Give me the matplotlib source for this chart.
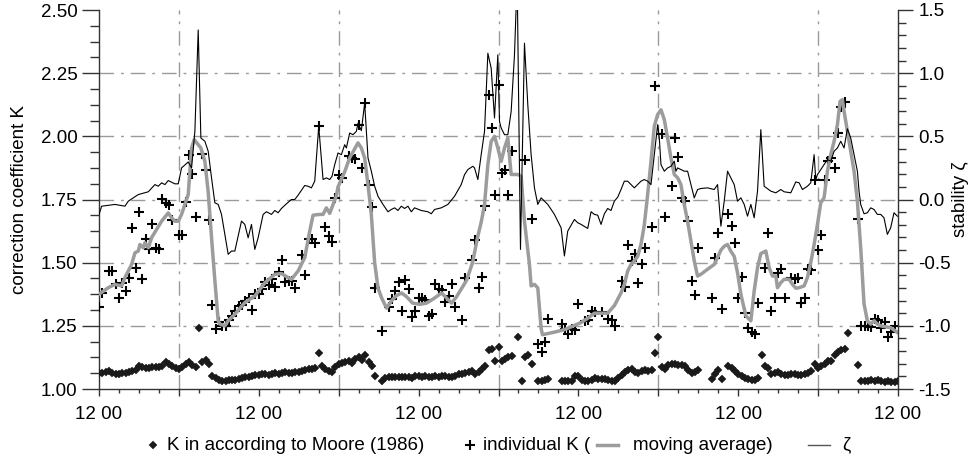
import numpy as np
import matplotlib.pyplot as plt
from matplotlib.lines import Line2D
from matplotlib.ticker import MultipleLocator, FormatStrFormatter

plt.rcParams["font.family"] = ["Liberation Sans", "DejaVu Sans"]
plt.rcParams["axes.unicode_minus"] = False

FS = 13.5
nan = np.nan

# time axis: hours since the first 12:00, five days
X_MAX = 120
DAY_TICKS = [0, 24, 48, 72, 96, 120]
MIDNIGHTS = [12, 36, 60, 84, 108]
K_GRID = [1.25, 1.50, 1.75, 2.00, 2.25]

# K after Moore (1986), half-hourly values
MOORE_DAY1 = [1.062, 1.064, 1.068, 1.072, 1.063, 1.060, 1.059, 1.064, 1.062, 1.066, 1.070, 1.076,
              1.092, 1.088, 1.083, 1.085, 1.086, 1.086, 1.087, 1.090, 1.105, 1.099, 1.092, 1.085,
              1.079, 1.086, 1.100, 1.105, 1.095, 1.088, 1.241, 1.108, 1.114, 1.100, 1.050, 1.043,
              1.035, 1.033, 1.033, 1.034, 1.036, 1.037, 1.039, 1.042, 1.046, 1.048, 1.050, 1.054]
MOORE_DAY2 = [1.056, 1.058, 1.060, 1.057, 1.060, 1.062, 1.061, 1.064, 1.066, 1.065, 1.063, 1.066,
              1.068, 1.072, 1.074, 1.078, 1.080, 1.085, 1.141, 1.090, 1.080, 1.072, 1.068, 1.088,
              1.098, 1.102, 1.108, 1.112, 1.104, 1.118, 1.128, 1.115, 1.135, 1.108, 1.092, 1.050,
              nan, 1.030, 1.045, 1.048, 1.046, 1.049, 1.047, 1.048, 1.046, 1.049, 1.045, 1.052]
MOORE_DAY3 = [1.050, 1.048, 1.050, 1.047, 1.049, 1.051, 1.048, 1.050, 1.052, 1.049, 1.047, 1.050,
              1.058, 1.061, 1.064, 1.068, 1.072, 1.060, 1.066, 1.078, 1.090, 1.155, 1.160, 1.112,
              1.165, 1.112, 1.118, 1.125, 1.132, nan, 1.207, 1.030, 1.127, 1.135, 1.100, nan,
              1.030, 1.030, 1.034, 1.038, nan, nan, nan, 1.032, 1.030, 1.031, 1.033, 1.050]
MOORE_DAY4 = [1.050, 1.035, 1.033, 1.033, 1.037, 1.042, 1.040, 1.038, 1.039, 1.034, 1.032, 1.030,
              1.045, 1.057, 1.066, 1.075, 1.079, 1.066, 1.062, 1.072, 1.075, 1.070, 1.074, 1.141,
              1.204, 1.086, 1.080, 1.095, 1.098, 1.097, 1.095, 1.094, 1.092, 1.075, 1.062, 1.068,
              1.075, nan, nan, nan, 1.040, 1.059, 1.075, 1.040, nan, 1.092, 1.082, 1.070]
MOORE_DAY5 = [1.058, 1.050, 1.045, 1.040, 1.036, 1.036, 1.045, 1.135, 1.090, 1.085, 1.058, 1.062,
              1.066, 1.060, 1.057, 1.056, 1.060, 1.058, 1.055, 1.057, 1.060, 1.064, 1.070, 1.100,
              1.082, 1.090, 1.100, 1.112, 1.110, 1.135, 1.148, 1.155, 1.160, 1.220, nan, nan,
              1.095, 1.033, 1.031, 1.032, 1.034, 1.033, 1.034, 1.031, 1.029, 1.030, 1.027, 1.029,
              1.030]

# individual K
IND_HOURS = [0.0, 0.5, 1.5, 2.0, 2.5, 3.0, 3.5, 4.0, 4.5, 5.0, 5.5, 6.0, 6.5, 7.0, 7.5, 8.0, 8.5,
             9.0, 9.5, 10.0, 10.5, 11.0, 12.0, 12.5, 13.0, 13.5, 14.0, 14.5, 15.5, 16.0, 16.5, 17.0,
             17.5, 18.0, 18.5, 19.0, 19.5, 20.0, 20.5, 21.0, 21.5, 22.0, 22.5, 23.0, 23.5,
             24.0, 24.5, 25.0, 25.5, 26.0, 26.5, 27.0, 27.5, 28.0, 28.5, 29.0, 29.5, 30.5, 31.0,
             31.5, 32.0, 32.5, 33.0, 34.0, 34.5, 35.0, 35.5, 36.0, 36.5, 37.5, 38.0, 38.5, 39.0,
             39.5, 40.0, 40.5, 41.0, 41.5, 42.5, 43.5, 44.0, 44.5, 45.0, 45.5, 46.0, 46.5, 47.0, 47.5,
             48.0, 48.5, 49.0, 49.5, 50.0, 50.5, 51.0, 51.5, 52.0, 52.5, 53.0, 53.5, 54.5, 55.0,
             56.0, 56.5, 57.0, 57.5, 58.0, 58.5, 59.0, 59.5, 60.0, 60.5, 61.0, 61.5, 62.0, 64.0,
             65.0, 66.0, 66.5, 67.0, 67.5, 69.5, 70.0, 70.5, 71.0, 71.5,
             72.0, 73.0, 73.5, 74.0, 74.5, 75.5, 76.5, 77.0, 77.5, 78.5, 79.0, 79.5, 80.0, 80.5,
             81.0, 81.5, 82.0, 83.0, 83.5, 84.5, 85.0, 86.0, 86.5, 87.0, 87.5, 88.0, 88.5, 89.0,
             89.5, 90.0, 92.0, 92.5, 93.0, 93.5, 94.5, 95.0, 95.5,
             96.0, 96.5, 97.0, 97.5, 98.0, 98.5, 99.0, 100.0, 100.5, 101.0, 101.5, 102.0, 102.5,
             103.0, 104.0, 104.5, 105.0, 105.5, 106.0, 106.5, 107.0, 107.5, 108.0, 108.5, 109.0,
             109.5, 110.0, 110.5, 111.0, 111.5, 112.0, 114.0, 114.5, 115.0, 115.5, 116.0, 116.5,
             117.0, 117.5, 118.0, 118.5, 119.0, 119.5]
IND_K = [1.325, 1.378, 1.467, 1.467, 1.414, 1.359, 1.421, 1.388, 1.438, 1.638, 1.478, 1.701, 1.434,
         1.592, 1.553, 1.654, 1.557, 1.553, 1.753, 1.737, 1.728, 1.667, 1.608, 1.608, 1.741, 1.925,
         1.851, 1.680, 1.932, 1.866, 1.667, 1.332, 1.237, 1.267, 1.250, 1.250, 1.272, 1.289, 1.309,
         1.329, 1.332, 1.349, 1.362, 1.312, 1.375,
         1.375, 1.395, 1.425, 1.412, 1.434, 1.404, 1.464, 1.512, 1.424, 1.428, 1.428, 1.400, 1.530,
         1.451, 1.592, 1.592, 1.578, 2.039, 1.641, 1.604, 1.580, 1.754, 1.845, 1.836, 1.924, 1.914,
         1.912, 2.046, 1.875, 2.130, 1.809, 1.722, 1.401, 1.230, 1.326, 1.355, 1.388, 1.422, 1.309,
         1.432, 1.395, 1.283, 1.309,
         1.362, 1.362, 1.351, 1.289, 1.296, 1.417, 1.395, 1.391, 1.346, 1.368, 1.417, 1.325, 1.272,
         1.438, 1.509, 1.589, 1.401, 1.443, 1.724, 2.164, 2.033, 1.767, 2.204, 1.855, 1.866, 1.767,
         1.941, 1.905, 1.671, 1.180, 1.147, 1.187, 1.276, 1.257, 1.237, 1.217, 1.237, 1.233,
         1.336, 1.270, 1.272, 1.309, 1.303, 1.303, 1.276, 1.272, 1.250, 1.428, 1.404, 1.570, 1.507,
         1.536, 1.421, 1.496, 1.557, 1.642, 2.201, 2.009, 1.680, 1.803, 1.993, 1.918, 1.754, 1.743,
         1.664, 1.428, 1.372, 1.557, 1.359, 1.520, 1.618, 1.316, 1.693, 1.647, 1.579,
         1.359, 1.443, 1.299, 1.243, 1.224, 1.217, 1.339, 1.480, 1.618, 1.307, 1.362, 1.461, 1.474,
         1.359, 1.438, 1.434, 1.438, 1.339, 1.359, 1.474, 1.470, 1.826, 1.550, 1.608, 1.826, 1.901,
         1.914, 1.875, 2.013, 2.118, 2.135, 1.671, 1.250, 1.250, 1.249, 1.246, 1.276, 1.272, 1.241,
         1.267, 1.207, 1.224, 1.250]

# moving average of individual K
AVG_HOURS = [0.0, 1.4, 2.4, 3.4, 3.9, 4.9, 5.4, 5.9, 6.15, 6.65, 6.9, 7.4, 7.9, 9.4, 10.4, 10.9,
             11.4, 11.9, 12.4, 12.9, 13.4, 13.65, 13.9, 14.3, 14.9, 15.3, 15.9, 16.4, 16.9, 17.4,
             17.9, 18.15, 18.9, 19.4, 20.4, 21.9, 23.4,
             24.9, 26.4, 27.4, 28.4, 28.9, 29.9, 30.9, 31.65, 32.15, 33.15, 33.65, 34.15, 34.65,
             35.15, 35.65, 35.9, 36.4, 36.9, 37.65, 38.4, 38.9, 39.4, 39.9, 40.4, 40.9, 41.4, 41.9,
             42.45, 43.2, 43.95, 44.7, 45.45, 46.2, 47.1,
             48.15, 49.2, 50.4, 51.45, 52.2, 52.95, 53.7, 55.2, 56.1, 56.85, 57.4, 57.9, 58.4, 58.9,
             59.4, 59.9, 60.4, 60.9, 61.4, 61.9, 62.4, 62.9, 63.4, 63.9, 64.65, 64.9, 65.4, 65.9,
             66.4, 66.6, 68.4, 69.9, 71.4,
             72.4, 73.4, 74.4, 75.4, 76.4, 77.4, 78.4, 78.9, 79.4, 79.9, 80.4, 80.9, 81.4, 81.9,
             82.4, 82.9, 83.4, 83.9, 84.4, 84.9, 85.4, 85.9, 86.4, 86.9, 87.4, 87.9, 88.4, 88.9,
             89.4, 89.9, 90.4, 91.4, 92.4, 92.9, 93.4, 93.9, 94.4, 94.9, 95.4, 95.9,
             96.4, 97.15, 97.9, 98.4, 98.9, 99.4, 100.15, 100.65, 101.15, 101.65, 101.9, 102.4,
             102.9, 103.65, 104.15, 104.65, 105.15, 105.9, 106.4, 106.9, 107.4, 107.9, 108.4, 108.9,
             109.4, 109.9, 110.4, 110.9, 111.3, 111.65, 111.9, 112.4, 112.9, 113.4, 113.9, 114.4,
             114.9, 115.4, 115.9, 116.4, 116.9, 117.4, 118.15, 118.9, 119.9]
AVG_K = [1.375, 1.401, 1.414, 1.408, 1.441, 1.493, 1.539, 1.546, 1.572, 1.559, 1.579, 1.559, 1.599,
         1.664, 1.697, 1.678, 1.664, 1.664, 1.691, 1.730, 1.770, 1.862, 1.954, 1.987, 1.967, 1.954,
         1.901, 1.780, 1.600, 1.430, 1.270, 1.257, 1.250, 1.270, 1.296, 1.342, 1.368,
         1.420, 1.454, 1.457, 1.441, 1.434, 1.467, 1.520, 1.625, 1.688, 1.691, 1.691, 1.717, 1.695,
         1.730, 1.765, 1.800, 1.830, 1.860, 1.915, 1.950, 1.974, 1.954, 1.914, 1.809, 1.691, 1.500,
         1.400, 1.360, 1.320, 1.350, 1.370, 1.380, 1.365, 1.340,
         1.335, 1.340, 1.360, 1.380, 1.360, 1.340, 1.365, 1.430, 1.500, 1.600, 1.660, 1.730, 1.888,
         1.980, 2.000, 1.954, 1.901, 1.954, 1.993, 1.849, 1.849, 1.849, 1.842, 1.664, 1.493, 1.408,
         1.414, 1.400, 1.240, 1.215, 1.225, 1.235, 1.252,
         1.263, 1.280, 1.300, 1.300, 1.300, 1.330, 1.380, 1.414, 1.467, 1.493, 1.507, 1.525, 1.572,
         1.650, 1.770, 1.900, 2.040, 2.086, 2.105, 2.066, 1.993, 1.914, 1.849, 1.836, 1.809, 1.730,
         1.664, 1.586, 1.507, 1.447, 1.454, 1.474, 1.493, 1.520, 1.550, 1.565, 1.572, 1.545, 1.525,
         1.460,
         1.375, 1.289, 1.270, 1.388, 1.480, 1.536, 1.546, 1.480, 1.447, 1.447, 1.401, 1.421, 1.434,
         1.434, 1.414, 1.399, 1.401, 1.408, 1.441, 1.500, 1.572, 1.651, 1.737, 1.757, 1.862, 1.928,
         1.980, 2.046, 2.138, 2.145, 2.099, 2.020, 1.941, 1.862, 1.743, 1.559, 1.336, 1.270, 1.257,
         1.270, 1.257, 1.250, 1.246, 1.243, 1.224]

# stability zeta
ZETA_HOURS = [0.0, 0.4, 2.4, 3.9, 4.4, 5.9, 7.4, 8.4, 8.9, 9.4, 9.9, 10.4, 11.4, 11.9, 12.4, 13.4,
              13.9, 14.4, 14.9, 15.3, 15.9, 16.4, 16.9, 17.4, 17.9, 18.4, 19.4, 19.9, 20.4, 21.4,
              21.9, 22.4, 22.9, 23.4, 23.9,
              24.65, 25.15, 25.9, 26.4, 26.9, 27.4, 28.15, 28.9, 29.4, 29.9, 30.9, 31.4, 31.9, 32.4,
              33.0, 33.65, 34.15, 34.65, 35.0, 35.4, 35.9, 36.4, 36.9, 37.15, 37.65, 38.15, 38.65,
              38.9, 39.4, 39.9, 40.4, 40.9, 41.4, 41.9, 42.65, 43.4, 43.9, 44.4, 44.9, 45.4, 45.9,
              46.4, 46.9, 47.4,
              48.4, 49.4, 49.9, 50.4, 51.4, 52.4, 53.4, 54.4, 54.9, 55.4, 56.15, 56.4, 56.9, 57.4,
              57.9, 58.4, 58.9, 59.4, 59.9, 60.15, 60.4, 60.9, 61.4, 61.9, 62.4, 62.8, 63.3, 63.9,
              64.4, 64.9, 65.4, 65.9, 66.4, 67.4, 68.4, 69.4, 69.9, 70.4, 71.4,
              71.9, 72.4, 73.4, 73.9, 74.4, 74.9, 75.4, 75.9, 76.4, 76.9, 77.4, 77.9, 78.4, 78.9,
              79.4, 79.9, 80.4, 80.9, 81.4, 81.9, 82.4, 82.9, 83.4, 83.9, 84.15, 84.4, 84.9, 85.4,
              85.9, 86.4, 86.65, 86.9, 87.4, 87.9, 88.4, 88.9, 89.4, 89.9, 90.4, 91.4, 92.4, 92.9,
              93.4, 93.9, 94.4, 94.9, 95.4, 95.9,
              96.4, 96.9, 97.4, 97.9, 98.4, 98.9, 99.4, 99.9, 100.9, 101.65, 102.4, 102.9, 103.9,
              104.65, 105.15, 105.65, 106.4, 106.9, 107.4, 107.65, 107.9, 108.4, 108.9, 109.4,
              109.9, 110.4, 110.9, 111.4, 111.9, 112.4, 112.9, 113.4, 113.9, 114.15, 114.4, 114.9,
              115.4, 115.9, 116.4, 116.9, 117.4, 117.9, 118.4, 118.9, 119.4, 119.9]
ZETA = [-0.118, -0.053, -0.039, -0.053, -0.013, 0.039, 0.061, 0.118, 0.105, 0.132, 0.118, 0.150,
        0.124, 0.124, 0.250, 0.297, 0.250, 0.539, 1.342, 0.487, 0.461, 0.382, 0.171, -0.026,
        -0.039, -0.118, -0.434, -0.408, -0.408, -0.171, -0.197, -0.303, -0.197, -0.395, -0.303,
        -0.118, -0.097, -0.118, -0.087, -0.105, -0.071, -0.034, 0.000, 0.000, 0.034, 0.111, 0.105,
        0.092, 0.145, 0.579, 0.158, 0.171, 0.158, 0.184, 0.276, 0.368, 0.355, 0.434, 0.408, 0.526,
        0.513, 0.539, 0.605, 0.545, 0.763, 0.329, 0.224, 0.105, 0.026, -0.039, -0.097, -0.079,
        -0.066, -0.087, -0.053, -0.071, -0.053, -0.097, -0.066,
        -0.087, -0.097, -0.113, -0.079, -0.066, -0.039, 0.026, 0.118, 0.197, 0.237, 0.263, 0.250,
        0.158, 0.355, 0.539, 1.158, 1.039, 0.645, 1.145, 0.618, 0.566, 0.513, 0.513, 0.697, 1.145,
        1.750, -0.395, 1.237, 0.750, 0.355, 0.092, -0.039, 0.013, -0.039, -0.118, -0.224, -0.447,
        -0.250, -0.158,
        -0.184, -0.197, -0.229, -0.097, -0.118, -0.124, -0.197, -0.113, -0.071, -0.087, -0.013,
        0.018, 0.079, 0.145, 0.145, 0.118, 0.092, 0.118, 0.145, 0.158, 0.145, 0.118, 0.355, 0.592,
        0.487, 0.276, 0.224, 0.250, 0.263, 0.303, 0.224, 0.250, 0.237, 0.224, 0.224, 0.118, 0.013,
        0.079, 0.087, 0.092, 0.079, 0.118, -0.211, -0.013, 0.224, 0.171, 0.118, -0.013,
        0.013, -0.039, -0.132, -0.039, -0.145, 0.066, 0.553, 0.105, 0.066, 0.053, 0.079, 0.061,
        0.053, 0.139, 0.132, 0.079, 0.105, 0.132, 0.355, 0.158, 0.197, 0.237, 0.276, 0.316, 0.303,
        0.382, 0.408, 0.461, 0.408, 0.560, 0.487, 0.355, 0.224, 0.066, -0.039, -0.113, -0.105,
        -0.066, -0.079, -0.118, -0.118, -0.145, -0.276, -0.224, -0.105, -0.132]

DIAMOND = dict(ls="none", marker="D", ms=4.4, color="#1a1a1a", mew=0.3)
CROSS = dict(ls="none", marker="+", ms=7, mew=1.5, color="black")
AVG_STYLE = dict(color="#9c9c9c", lw=2.5)


def main():
    moore_k = MOORE_DAY1 + MOORE_DAY2 + MOORE_DAY3 + MOORE_DAY4 + MOORE_DAY5
    moore_hours = np.arange(len(moore_k)) * 0.5

    fig = plt.figure(figsize=(9.74, 4.59), dpi=100)
    ax = fig.add_axes([99 / 974, 70 / 459, 799 / 974, 379 / 459])
    ax2 = ax.twinx()

    grid_kw = dict(color="#9a9a9a", lw=1.0, dashes=(10.5, 5, 2, 5), zorder=0)
    for k in K_GRID:
        ax.axhline(k, **grid_kw)
    for h in MIDNIGHTS:
        ax.axvline(h, **grid_kw)

    ax.plot(moore_hours, moore_k, zorder=3, **DIAMOND)
    ax.plot(IND_HOURS, IND_K, zorder=4, **CROSS)
    ax.plot(AVG_HOURS, AVG_K, zorder=5, solid_joinstyle="round", **AVG_STYLE)
    ax2.plot(ZETA_HOURS, ZETA, color="black", lw=0.8)

    ax.set_xlim(0, X_MAX)
    ax.set_ylim(1.0, 2.5)
    ax2.set_ylim(-1.5, 1.5)

    ax.set_xticks(np.arange(0, X_MAX + 1, 12))
    ax.set_xticklabels(["12 00" if h in DAY_TICKS else "" for h in range(0, X_MAX + 1, 12)])
    ax.xaxis.set_minor_locator(MultipleLocator(3))
    ax.set_yticks(np.arange(1.0, 2.51, 0.25))
    ax.yaxis.set_major_formatter(FormatStrFormatter("%.2f"))
    ax.yaxis.set_minor_locator(MultipleLocator(0.0625))
    ax2.set_yticks(np.arange(-1.5, 1.51, 0.5))
    ax2.yaxis.set_major_formatter(FormatStrFormatter("%.1f"))
    ax2.yaxis.set_minor_locator(MultipleLocator(0.1))

    tick_col = "#333333"
    ax.tick_params(axis="y", which="major", length=12, width=1, pad=3.5, labelsize=FS, color=tick_col)
    ax.tick_params(axis="y", which="minor", length=6.5, width=1, color=tick_col)
    ax.tick_params(axis="x", which="major", length=5, width=1, pad=7, labelsize=FS, color=tick_col)
    ax.tick_params(axis="x", which="minor", length=3, width=1, color=tick_col)
    ax2.tick_params(axis="y", which="major", length=11, width=1, pad=3.5, labelsize=FS, color=tick_col)
    ax2.tick_params(axis="y", which="minor", length=6, width=1, color=tick_col)

    ax.spines["top"].set_visible(False)
    ax.spines["right"].set_visible(False)
    for side in ("top", "left", "bottom"):
        ax2.spines[side].set_visible(False)
    for sp in (ax.spines["left"], ax.spines["bottom"], ax2.spines["right"]):
        sp.set_color(tick_col)
        sp.set_linewidth(1.0)

    ax.set_ylabel("correction coefficient K", fontsize=FS)
    ax.yaxis.label.set_verticalalignment("center")
    ax.yaxis.set_label_coords(-0.099, 0.5)
    ax2.set_ylabel("stability ζ", fontsize=FS, rotation=90)
    ax2.yaxis.label.set_verticalalignment("center")
    ax2.yaxis.set_label_coords(1.0776, 0.5)

    # legend row under the axes
    ly = 1 - 445 / 459
    fx = lambda px: px / 974
    fig.add_artist(Line2D([fx(153)], [ly], transform=fig.transFigure, **DIAMOND))
    fig.text(fx(167), ly, "K in according to Moore (1986)", fontsize=FS, va="center")
    fig.add_artist(Line2D([fx(470)], [ly], transform=fig.transFigure, **CROSS))
    fig.text(fx(483), ly, "individual K (", fontsize=FS, va="center")
    fig.add_artist(Line2D([fx(597), fx(618)], [ly, ly], transform=fig.transFigure, **AVG_STYLE))
    fig.text(fx(633), ly, "moving average)", fontsize=FS, va="center")
    fig.add_artist(Line2D([fx(808), fx(830)], [ly, ly], color="#555555", lw=1.0,
                          transform=fig.transFigure))
    fig.text(fx(842), ly, "ζ", fontsize=FS, va="center")

    fig.savefig("out.png", dpi=100)


if __name__ == "__main__":
    main()
